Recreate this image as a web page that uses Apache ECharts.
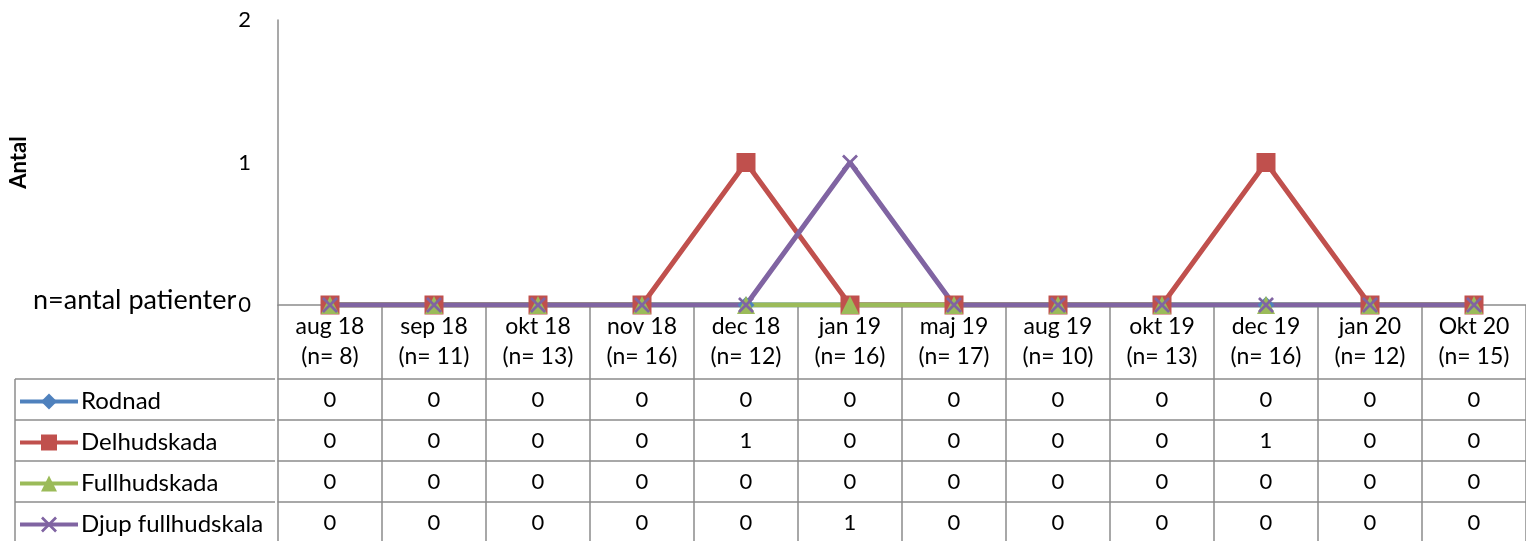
<!DOCTYPE html>
<html>
<head>
<meta charset="utf-8">
<script src="https://cdn.jsdelivr.net/npm/echarts@6/dist/echarts.min.js"></script>
<style>
html, body { margin: 0; padding: 0; background: #fff; }
#chart { width: 1526px; height: 541px; }
</style>
</head>
<body>
<div id="chart"></div>
<script>
// mätperioder och antal patienter per mätning
var months = ['aug 18', 'sep 18', 'okt 18', 'nov 18', 'dec 18', 'jan 19', 'maj 19', 'aug 19', 'okt 19', 'dec 19', 'jan 20', 'Okt 20'];
var patients = [8, 11, 13, 16, 12, 16, 17, 10, 13, 16, 12, 15];

var seriesNames = ['Rodnad', 'Delhudskada', 'Fullhudskada', 'Djup fullhudskala'];
var rodnad = [0, 0, 0, 0, 0, 0, 0, 0, 0, 0, 0, 0];
var delhudskada = [0, 0, 0, 0, 1, 0, 0, 0, 0, 1, 0, 0];
var fullhudskada = [0, 0, 0, 0, 0, 0, 0, 0, 0, 0, 0, 0];
var djupFullhudskala = [0, 0, 0, 0, 0, 1, 0, 0, 0, 0, 0, 0];
var yTicks = [0, 1, 2];

var allRows = [rodnad, delhudskada, fullhudskada, djupFullhudskala];
var colors = ['#4f81bd', '#c0504d', '#9bbb59', '#8064a2'];
var crossPath = 'path://M0,1.2L1.2,0L10,8.8L8.8,10Z M8.8,0L10,1.2L1.2,10L0,8.8Z';
var symbols = ['diamond', 'rect', 'triangle', crossPath];
var symbolSizes = [17, 19, 18, 16];

var font = 'Lato, "Liberation Sans", sans-serif';
var borderColor = '#8c8c8c';
var plotLeft = 275, plotTop = 20, zeroY = 305, headerH = 74, rowH = 41, tableLeft = 15;
var H = 541;

var xAxes = [{
    type: 'category',
    data: months,
    boundaryGap: true,
    axisLine: {lineStyle: {color: borderColor, width: 1.5}},
    axisTick: {show: true, interval: 0, length: headerH, lineStyle: {color: borderColor, width: 1.5}},
    axisLabel: {
        interval: 0, margin: 7, color: '#000', fontFamily: font, fontSize: 23, lineHeight: 30,
        formatter: function (v, i) { return v + '\n(n= ' + patients[i] + ')'; }
    }
}];
allRows.forEach(function (vals, k) {
    xAxes.push({
        type: 'category',
        gridIndex: 0,
        position: 'bottom',
        offset: headerH + k * rowH,
        data: months,
        boundaryGap: true,
        axisLine: {lineStyle: {color: borderColor, width: 1.5}},
        axisTick: {show: true, interval: 0, length: rowH, lineStyle: {color: borderColor, width: 1.5}},
        axisLabel: {
            interval: 0, margin: 10, color: '#000', fontFamily: font, fontSize: 22,
            formatter: function (v, i) { return String(vals[i]); }
        }
    });
});

// ramar för förklaringskolumnen till vänster i tabellen
var tableLines = [];
for (var r = 0; r <= allRows.length; r++) {
    var y = zeroY + headerH + r * rowH;
    tableLines.push({type: 'line', shape: {x1: tableLeft, y1: y, x2: plotLeft, y2: y},
        style: {stroke: borderColor, lineWidth: 1.5}, silent: true});
}
tableLines.push({type: 'line', shape: {x1: tableLeft, y1: zeroY + headerH, x2: tableLeft, y2: H},
    style: {stroke: borderColor, lineWidth: 1.5}, silent: true});
tableLines.push({type: 'text', left: 33, top: 287,
    style: {text: 'n=antal patienter', fill: '#000', font: '27px ' + font}, silent: true});

// en förklaring per tabellrad
var legends = seriesNames.map(function (name, k) {
    return {
        orient: 'horizontal',
        left: 18,
        top: zeroY + headerH + k * rowH + rowH / 2 - 10,
        padding: 0,
        itemWidth: 58,
        itemHeight: 20,
        lineStyle: {width: 4},
        textStyle: {fontSize: 24, color: '#000', fontFamily: font, padding: [0, 0, 0, -2]},
        data: [name]
    };
});

var chart = echarts.init(document.getElementById('chart'));
chart.setOption({
    animation: false,
    color: colors,
    textStyle: {fontFamily: font},
    grid: {left: plotLeft, right: 0, top: plotTop, bottom: H - zeroY, containLabel: false},
    legend: legends,
    xAxis: xAxes,
    yAxis: {
        type: 'value',
        min: yTicks[0],
        max: yTicks[yTicks.length - 1],
        interval: 1,
        name: 'Antal',
        nameLocation: 'middle',
        nameGap: 248,
        nameRotate: 90,
        nameTextStyle: {fontWeight: 'bold', fontSize: 22, color: '#000', fontFamily: font},
        axisLine: {show: true, lineStyle: {color: borderColor, width: 1.5}},
        axisTick: {show: false},
        splitLine: {show: false},
        axisLabel: {margin: 27, color: '#000', fontSize: 22, fontFamily: font}
    },
    graphic: tableLines,
    series: allRows.map(function (vals, i) {
        return {
            name: seriesNames[i],
            type: 'line',
            data: vals,
            symbol: symbols[i],
            symbolSize: symbolSizes[i],
            showAllSymbol: true,
            lineStyle: {width: 5, color: colors[i]},
            itemStyle: {color: colors[i]}
        };
    })
});
</script>
</body>
</html>
